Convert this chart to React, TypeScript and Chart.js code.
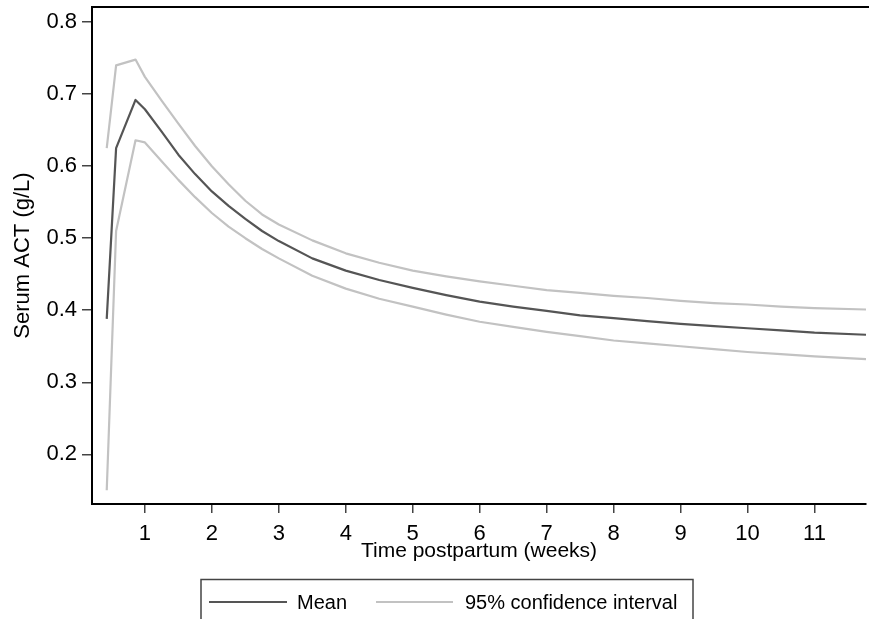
import React, { useEffect, useRef } from "react";
import { Chart, registerables } from "chart.js";

Chart.register(...registerables);

const weeks = [0.43, 0.57, 0.86, 1.0, 1.25, 1.5, 1.75, 2.0, 2.25, 2.5, 2.75, 3.0, 3.5, 4.0, 4.5, 5.0, 5.5, 6.0, 6.5, 7.0, 7.5, 8.0, 8.5, 9.0, 9.5, 10.0, 10.5, 11.0, 11.77];
const meanACT = [0.388, 0.625, 0.692, 0.679, 0.648, 0.616, 0.589, 0.565, 0.545, 0.527, 0.510, 0.496, 0.472, 0.455, 0.442, 0.431, 0.421, 0.412, 0.405, 0.399, 0.393, 0.389, 0.385, 0.381, 0.378, 0.375, 0.372, 0.369, 0.366];
const upperCI = [0.625, 0.74, 0.748, 0.724, 0.691, 0.659, 0.628, 0.600, 0.575, 0.552, 0.533, 0.519, 0.497, 0.479, 0.466, 0.455, 0.447, 0.44, 0.434, 0.428, 0.424, 0.42, 0.417, 0.413, 0.41, 0.408, 0.405, 0.403, 0.401];
const lowerCI = [0.15, 0.51, 0.636, 0.633, 0.607, 0.581, 0.557, 0.535, 0.516, 0.500, 0.485, 0.472, 0.448, 0.43, 0.416, 0.405, 0.394, 0.384, 0.377, 0.37, 0.364, 0.358, 0.354, 0.35, 0.346, 0.342, 0.339, 0.336, 0.332];
const xTicks = [1, 2, 3, 4, 5, 6, 7, 8, 9, 10, 11];
const yTicks = [0.2, 0.3, 0.4, 0.5, 0.6, 0.7, 0.8];
const legendLabels = ["Mean", "95% confidence interval"];

const MEAN_COLOR = "#555555";
const CI_COLOR = "#c2c2c2";
const FONT = "'Liberation Sans', Arial, Helvetica, sans-serif";

const framePlugin = {
  id: "frameAndLegend",
  afterDraw(chart: any) {
    const ctx = chart.ctx;
    const a = chart.chartArea;
    ctx.save();
    ctx.strokeStyle = "#000";
    ctx.lineWidth = 2;
    ctx.beginPath();
    ctx.moveTo(a.left - 1, a.top);
    ctx.lineTo(chart.width, a.top);
    ctx.stroke();

    const bx = 201, by = 579.5, bw = 492, bh = 60;
    ctx.strokeStyle = "#444";
    ctx.lineWidth = 1.5;
    ctx.strokeRect(bx, by, bw, bh);
    const ly = 602;
    const items = [
      { x1: 209, x2: 287, tx: 297, color: MEAN_COLOR, text: legendLabels[0] },
      { x1: 376, x2: 453, tx: 465, color: CI_COLOR, text: legendLabels[1] },
    ];
    ctx.font = "20px " + FONT;
    ctx.textBaseline = "middle";
    ctx.textAlign = "left";
    for (const it of items) {
      ctx.strokeStyle = it.color;
      ctx.lineWidth = 2.2;
      ctx.beginPath();
      ctx.moveTo(it.x1, ly);
      ctx.lineTo(it.x2, ly);
      ctx.stroke();
      ctx.fillStyle = "#000";
      ctx.fillText(it.text, it.tx, ly + 1);
    }
    ctx.restore();
  },
};

export default function App() {
  const ref = useRef<HTMLCanvasElement | null>(null);
  useEffect(() => {
    document.body.style.margin = "0";
    const canvas = ref.current;
    if (!canvas) return;
    Chart.defaults.font.family = FONT;
    Chart.defaults.color = "#000";
    const mk = (ys: number[]) => weeks.map((x, i) => ({ x, y: ys[i] }));
    const common = { pointRadius: 0, borderWidth: 2.2, fill: false, tension: 0, borderJoinStyle: "round" as const };
    const chart = new Chart(canvas, {
      type: "line",
      data: {
        datasets: [
          { label: legendLabels[1], data: mk(upperCI), borderColor: CI_COLOR, ...common },
          { label: legendLabels[1], data: mk(lowerCI), borderColor: CI_COLOR, ...common },
          { label: legendLabels[0], data: mk(meanACT), borderColor: MEAN_COLOR, ...common },
        ],
      },
      options: {
        animation: false,
        responsive: false,
        maintainAspectRatio: false,
        layout: { padding: { left: 0, top: 7, right: 3, bottom: 55 } },
        plugins: { legend: { display: false }, tooltip: { enabled: false } },
        scales: {
          x: {
            type: "linear",
            min: 0.21,
            max: 11.77,
            afterBuildTicks: (s: any) => { s.ticks = xTicks.map((v) => ({ value: v })); },
            afterFit: (s: any) => { s.height = 60; s.paddingLeft = 0; s.paddingRight = 0; },
            grid: { display: true, drawOnChartArea: false, drawTicks: true, tickLength: 9, color: "#444", lineWidth: 1.5 },
            border: { display: true, color: "#000", width: 2 },
            ticks: { autoSkip: false, maxRotation: 0, padding: 8, font: { size: 22 }, color: "#000", callback: (v: any) => String(v) },
            title: { display: true, text: "Time postpartum (weeks)", font: { size: 21 }, color: "#000", padding: { top: 0, bottom: 0 } },
          },
          y: {
            type: "linear",
            min: 0.131,
            max: 0.821,
            afterBuildTicks: (s: any) => { s.ticks = yTicks.map((v) => ({ value: v })); },
            afterFit: (s: any) => { s.width = 92; s.paddingTop = 0; s.paddingBottom = 0; },
            grid: { display: true, drawOnChartArea: false, drawTicks: true, tickLength: 10, color: "#444", lineWidth: 1.5 },
            border: { display: true, color: "#000", width: 2 },
            ticks: { autoSkip: false, padding: 5, font: { size: 22 }, color: "#000", callback: (v: any) => Number(v).toFixed(1) },
            title: { display: true, text: "Serum ACT (g/L)", font: { size: 22 }, color: "#000", padding: { top: 10, bottom: 0 } },
          },
        },
      },
      plugins: [framePlugin],
    });
    return () => chart.destroy();
  }, []);
  return (
    <div style={{ position: "absolute", left: 0, top: 0, width: 869, height: 619, background: "#fff" }}>
      <canvas ref={ref} width={869} height={619} style={{ display: "block" }} />
    </div>
  );
}
